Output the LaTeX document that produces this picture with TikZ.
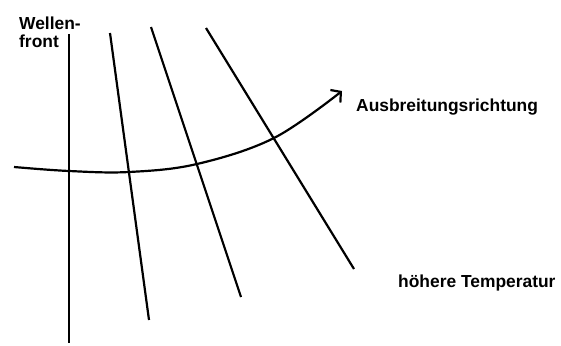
\documentclass[tikz,border=0pt]{standalone}
\usepackage{fontspec}
\setmainfont{Liberation Sans}
\usetikzlibrary{arrows.meta}
\begin{document}
\begin{tikzpicture}[x=1pt,y=-1pt,
  wave/.style={line width=2.2pt,black},
  lbl/.style={anchor=base west,inner sep=0pt,font=\fontsize{17.4}{18}\selectfont\bfseries}]
\useasboundingbox (0,0) rectangle (561,345);
% wave fronts
\draw[wave] (69,34) -- (69,343);
\draw[wave] (110,33) -- (149,320);
\draw[wave] (151,27) -- (241,297);
\draw[wave] (206,28) -- (354,269);
% propagation direction
\draw[wave,-{Straight Barb[length=7pt,width=16pt,line width=2.2pt]}] plot[smooth,tension=0.6] coordinates {(14,167) (69,171) (129,172) (197,164) (274,138) (342,91)};
% labels
\node[lbl] (wf1) at (19,30) {Wellen-};
\node[lbl] (wf2) at (19,48) {front};
\node[lbl] (ar) at (356,111) {Ausbreitungsrichtung};
\node[lbl] (ht) at (398,287) {höhere Temperatur};
\end{tikzpicture}
\end{document}
